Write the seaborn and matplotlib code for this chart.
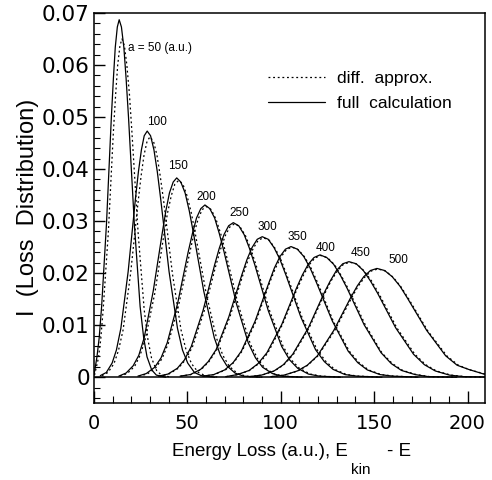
import pandas as pd
import seaborn as sns
import matplotlib.pyplot as plt
from matplotlib.lines import Line2D
from matplotlib.ticker import MultipleLocator, FuncFormatter

# === Data (energy loss in a.u., intensity) ===
a_values = [50, 100, 150, 200, 250, 300, 350, 400, 450, 500]

# full calculation
full_x_50 = [0.0, 1.6, 2.8, 4.1, 6.7, 9.3, 10.4, 11.4, 12.5, 13.5, 14.7, 16.0, 17.2, 18.5, 21.6, 24.7, 26.6, 28.4, 30.9, 33.4, 38.4]
full_y_50 = [0.0004, 0.0039, 0.0076, 0.0136, 0.0295, 0.0499, 0.0574, 0.0634, 0.0673, 0.0687, 0.0673, 0.0634, 0.0574, 0.0499, 0.0295, 0.0136, 0.0076, 0.0039, 0.0014, 0.0004, 0.0000]
full_x_100 = [3.4, 6.6, 9.7, 12.0, 14.4, 18.3, 22.2, 23.8, 25.4, 26.9, 28.5, 30.3, 32.1, 33.9, 35.7, 40.2, 44.7, 47.4, 50.2, 53.8, 57.4, 64.6]
full_y_100 = [0.0003, 0.0009, 0.0027, 0.0052, 0.0094, 0.0203, 0.0343, 0.0395, 0.0437, 0.0464, 0.0473, 0.0464, 0.0437, 0.0395, 0.0343, 0.0203, 0.0094, 0.0052, 0.0027, 0.0009, 0.0003, 0.0000]
full_x_150 = [13.3, 17.2, 21.0, 24.0, 26.9, 31.7, 36.6, 38.5, 40.4, 42.4, 44.3, 46.5, 48.8, 51.0, 53.2, 58.8, 64.4, 67.7, 71.1, 75.5, 80.0, 88.9]
full_y_150 = [0.0002, 0.0008, 0.0022, 0.0042, 0.0076, 0.0165, 0.0278, 0.0320, 0.0354, 0.0375, 0.0383, 0.0375, 0.0354, 0.0320, 0.0278, 0.0165, 0.0076, 0.0042, 0.0022, 0.0008, 0.0002, 0.0000]
full_x_200 = [23.5, 28.0, 32.5, 35.9, 39.2, 44.8, 50.4, 52.7, 54.9, 57.2, 59.4, 62.0, 64.6, 67.1, 69.7, 76.2, 82.6, 86.5, 90.3, 95.5, 100.7, 111.0]
full_y_200 = [0.0002, 0.0007, 0.0019, 0.0037, 0.0066, 0.0142, 0.0240, 0.0276, 0.0306, 0.0324, 0.0331, 0.0324, 0.0306, 0.0276, 0.0240, 0.0142, 0.0066, 0.0037, 0.0019, 0.0007, 0.0002, 0.0000]
full_x_250 = [34.6, 39.6, 44.6, 48.4, 52.1, 58.4, 64.6, 67.1, 69.6, 72.1, 74.6, 77.5, 80.4, 83.2, 86.1, 93.3, 100.5, 104.8, 109.1, 114.8, 120.6, 132.1]
full_y_250 = [0.0002, 0.0006, 0.0017, 0.0033, 0.0059, 0.0128, 0.0216, 0.0248, 0.0274, 0.0291, 0.0297, 0.0291, 0.0274, 0.0248, 0.0216, 0.0128, 0.0059, 0.0033, 0.0017, 0.0006, 0.0002, 0.0000]
full_x_300 = [46.1, 51.6, 57.1, 61.2, 65.4, 72.2, 79.1, 81.9, 84.6, 87.4, 90.1, 93.3, 96.4, 99.6, 102.8, 110.7, 118.6, 123.3, 128.0, 134.4, 140.7, 153.3]
full_y_300 = [0.0002, 0.0005, 0.0015, 0.0030, 0.0053, 0.0116, 0.0196, 0.0226, 0.0249, 0.0265, 0.0270, 0.0265, 0.0249, 0.0226, 0.0196, 0.0116, 0.0053, 0.0030, 0.0015, 0.0005, 0.0002, 0.0000]
full_x_350 = [58.2, 64.1, 70.0, 74.5, 78.9, 86.3, 93.7, 96.6, 99.6, 102.5, 105.5, 108.9, 112.3, 115.7, 119.1, 127.6, 136.1, 141.2, 146.3, 153.1, 159.9, 173.5]
full_y_350 = [0.0002, 0.0005, 0.0014, 0.0028, 0.0050, 0.0108, 0.0182, 0.0210, 0.0232, 0.0246, 0.0251, 0.0246, 0.0232, 0.0210, 0.0182, 0.0108, 0.0050, 0.0028, 0.0014, 0.0005, 0.0002, 0.0000]
full_x_400 = [70.5, 76.8, 83.1, 87.8, 92.6, 100.5, 108.4, 111.5, 114.7, 117.8, 121.0, 124.6, 128.3, 131.9, 135.5, 144.6, 153.7, 159.2, 164.6, 171.9, 179.1, 193.7]
full_y_400 = [0.0001, 0.0005, 0.0013, 0.0026, 0.0047, 0.0101, 0.0171, 0.0196, 0.0217, 0.0230, 0.0235, 0.0230, 0.0217, 0.0196, 0.0171, 0.0101, 0.0047, 0.0026, 0.0013, 0.0005, 0.0001, 0.0000]
full_x_450 = [83.0, 89.7, 96.4, 101.4, 106.4, 114.8, 123.1, 126.5, 129.8, 133.2, 136.5, 140.4, 144.2, 148.0, 151.9, 161.5, 171.1, 176.9, 182.7, 190.3, 198.0, 213.4]
full_y_450 = [0.0001, 0.0004, 0.0012, 0.0024, 0.0044, 0.0095, 0.0161, 0.0185, 0.0205, 0.0218, 0.0222, 0.0218, 0.0205, 0.0185, 0.0161, 0.0095, 0.0044, 0.0024, 0.0012, 0.0004, 0.0001, 0.0000]
full_x_500 = [94.7, 101.8, 108.9, 114.2, 119.6, 128.4, 137.3, 140.9, 144.4, 148.0, 151.5, 155.6, 159.7, 163.8, 167.8, 178.1, 188.3, 194.4, 200.5, 208.7, 216.9]
full_y_500 = [0.0001, 0.0004, 0.0012, 0.0023, 0.0041, 0.0090, 0.0152, 0.0175, 0.0193, 0.0205, 0.0209, 0.0205, 0.0193, 0.0175, 0.0152, 0.0090, 0.0041, 0.0023, 0.0015, 0.0006, 0.0003]

# diffusion approximation
diff_x_50 = [0.3, 2.4, 3.6, 4.9, 7.7, 10.4, 11.6, 12.7, 13.9, 15.0, 16.3, 17.6, 19.0, 20.3, 23.6, 26.9, 28.9, 30.8, 33.5, 36.1, 41.4]
diff_y_50 = [0.0004, 0.0037, 0.0072, 0.0129, 0.0279, 0.0472, 0.0543, 0.0600, 0.0637, 0.0650, 0.0637, 0.0600, 0.0543, 0.0472, 0.0279, 0.0129, 0.0072, 0.0037, 0.0013, 0.0004, 0.0000]
diff_x_100 = [4.3, 7.5, 10.7, 13.1, 15.6, 19.6, 23.6, 25.2, 26.8, 28.4, 30.0, 31.9, 33.7, 35.5, 37.4, 42.0, 46.6, 49.4, 52.2, 55.9, 59.6, 67.0]
diff_y_100 = [0.0003, 0.0009, 0.0026, 0.0051, 0.0091, 0.0199, 0.0336, 0.0386, 0.0427, 0.0453, 0.0462, 0.0453, 0.0427, 0.0386, 0.0336, 0.0199, 0.0091, 0.0051, 0.0026, 0.0009, 0.0003, 0.0000]
diff_x_150 = [13.9, 17.8, 21.8, 24.7, 27.6, 32.6, 37.5, 39.4, 41.4, 43.3, 45.3, 47.6, 49.8, 52.1, 54.3, 60.0, 65.6, 69.0, 72.4, 76.9, 81.4, 90.5]
diff_y_150 = [0.0002, 0.0007, 0.0021, 0.0042, 0.0075, 0.0162, 0.0275, 0.0316, 0.0349, 0.0371, 0.0378, 0.0371, 0.0349, 0.0316, 0.0275, 0.0162, 0.0075, 0.0042, 0.0021, 0.0007, 0.0002, 0.0000]
diff_x_200 = [24.0, 28.5, 33.1, 36.5, 39.8, 45.5, 51.2, 53.4, 55.7, 57.9, 60.2, 62.8, 65.4, 68.0, 70.6, 77.1, 83.6, 87.5, 91.4, 96.6, 101.8, 112.2]
diff_y_200 = [0.0002, 0.0006, 0.0018, 0.0036, 0.0065, 0.0141, 0.0238, 0.0274, 0.0303, 0.0322, 0.0328, 0.0322, 0.0303, 0.0274, 0.0238, 0.0141, 0.0065, 0.0036, 0.0018, 0.0006, 0.0002, 0.0000]
diff_x_250 = [35.1, 40.1, 45.1, 48.9, 52.7, 59.0, 65.2, 67.8, 70.3, 72.8, 75.3, 78.2, 81.1, 84.0, 86.9, 94.1, 101.4, 105.7, 110.0, 115.8, 121.6, 133.2]
diff_y_250 = [0.0002, 0.0006, 0.0017, 0.0033, 0.0058, 0.0127, 0.0214, 0.0246, 0.0272, 0.0289, 0.0295, 0.0289, 0.0272, 0.0246, 0.0214, 0.0127, 0.0058, 0.0033, 0.0017, 0.0006, 0.0002, 0.0000]
diff_x_300 = [46.4, 51.9, 57.5, 61.6, 65.8, 72.7, 79.6, 82.4, 85.2, 87.9, 90.7, 93.9, 97.1, 100.3, 103.4, 111.4, 119.4, 124.2, 128.9, 135.3, 141.7, 154.4]
diff_y_300 = [0.0002, 0.0005, 0.0015, 0.0030, 0.0053, 0.0115, 0.0195, 0.0224, 0.0247, 0.0263, 0.0268, 0.0263, 0.0247, 0.0224, 0.0195, 0.0115, 0.0053, 0.0030, 0.0015, 0.0005, 0.0002, 0.0000]
diff_x_350 = [58.5, 64.5, 70.4, 74.8, 79.3, 86.7, 94.1, 97.1, 100.1, 103.0, 106.0, 109.4, 112.8, 116.3, 119.7, 128.2, 136.7, 141.9, 147.0, 153.8, 160.7, 174.3]
diff_y_350 = [0.0002, 0.0005, 0.0014, 0.0028, 0.0050, 0.0107, 0.0182, 0.0209, 0.0231, 0.0245, 0.0250, 0.0245, 0.0231, 0.0209, 0.0182, 0.0107, 0.0050, 0.0028, 0.0014, 0.0005, 0.0002, 0.0000]
diff_x_400 = [70.8, 77.1, 83.4, 88.2, 93.0, 100.9, 108.8, 112.0, 115.2, 118.3, 121.5, 125.2, 128.8, 132.4, 136.1, 145.2, 154.3, 159.8, 165.3, 172.6, 179.9, 194.5]
diff_y_400 = [0.0001, 0.0005, 0.0013, 0.0026, 0.0046, 0.0101, 0.0170, 0.0195, 0.0216, 0.0229, 0.0234, 0.0229, 0.0216, 0.0195, 0.0170, 0.0101, 0.0046, 0.0026, 0.0013, 0.0005, 0.0001, 0.0000]
diff_x_450 = [83.3, 90.0, 96.7, 101.7, 106.8, 115.2, 123.6, 126.9, 130.3, 133.6, 137.0, 140.9, 144.7, 148.6, 152.5, 162.1, 171.8, 177.6, 183.3, 191.1, 198.8, 214.2]
diff_y_450 = [0.0001, 0.0004, 0.0012, 0.0024, 0.0044, 0.0095, 0.0161, 0.0185, 0.0204, 0.0217, 0.0221, 0.0217, 0.0204, 0.0185, 0.0161, 0.0095, 0.0044, 0.0024, 0.0012, 0.0004, 0.0001, 0.0000]
diff_x_500 = [94.9, 102.1, 109.2, 114.5, 119.9, 128.8, 137.7, 141.3, 144.9, 148.4, 152.0, 156.1, 160.2, 164.3, 168.4, 178.7, 188.9, 195.1, 201.3, 209.5, 217.7]
diff_y_500 = [0.0001, 0.0004, 0.0012, 0.0023, 0.0041, 0.0089, 0.0151, 0.0174, 0.0192, 0.0204, 0.0208, 0.0204, 0.0192, 0.0174, 0.0151, 0.0089, 0.0041, 0.0023, 0.0014, 0.0006, 0.0003]

# curve labels (text, x, y in data units)
label_texts = ["a = 50 (a.u.)", "100", "150", "200", "250", "300", "350", "400", "450", "500"]
label_x = [18.2, 33.5, 45.1, 60.0, 77.8, 92.8, 108.9, 124.2, 143.0, 163.0]
label_y = [0.0633, 0.0490, 0.0406, 0.0347, 0.0316, 0.0288, 0.0269, 0.0249, 0.0238, 0.0225]

x_ticks = [0, 50, 100, 150, 200]


def build_frame(prefix: str) -> pd.DataFrame:
    parts = []
    for a in a_values:
        xs = globals()[f"{prefix}_x_{a}"]
        ys = globals()[f"{prefix}_y_{a}"]
        parts.append(pd.DataFrame({"energy_loss": xs, "intensity": ys, "a": a}))
    return pd.concat(parts, ignore_index=True)


# === Plot ===
sns.set_theme(style="ticks")
plt.rcParams["font.family"] = ["Liberation Sans", "DejaVu Sans"]
plt.rcParams["text.color"] = "black"
plt.rcParams["axes.labelcolor"] = "black"
plt.rcParams["xtick.color"] = "black"
plt.rcParams["ytick.color"] = "black"

full_df = build_frame("full")
diff_df = build_frame("diff")

fig = plt.figure(figsize=(4.92, 4.8), dpi=100)
ax = fig.add_axes([0.191, 0.160, 0.795, 0.813])

dotted = (0, (1.5, 2.2))
sns.lineplot(data=diff_df, x="energy_loss", y="intensity", units="a", estimator=None,
             sort=False, color="black", lw=0.9, linestyle=dotted, legend=False, ax=ax)
sns.lineplot(data=full_df, x="energy_loss", y="intensity", units="a", estimator=None,
             sort=False, color="black", lw=0.9, legend=False, ax=ax)
ax.axhline(0, color="black", lw=1.1)

for txt, lx, ly in zip(label_texts, label_x, label_y):
    ha = "left" if txt.startswith("a") else "center"
    ax.text(lx, ly, txt, fontsize=8.5, ha=ha, va="center", color="black")

ax.set_xlim(0, 209.4)
ax.set_ylim(-0.005, 0.07)
ax.set_xticks(x_ticks)
ax.xaxis.set_minor_locator(MultipleLocator(10))
ax.yaxis.set_major_locator(MultipleLocator(0.01))
ax.yaxis.set_minor_locator(MultipleLocator(0.002))
ax.yaxis.set_major_formatter(FuncFormatter(lambda v, _: "0" if abs(v) < 1e-9 else f"{v:.2f}"))
ax.tick_params(which="both", direction="in", top=False, right=False, colors="black")
ax.tick_params(axis="x", which="major", length=9, width=1, labelsize=14, pad=8)
ax.tick_params(axis="x", which="minor", length=5, width=0.8)
ax.tick_params(axis="y", which="major", length=8, width=1, labelsize=15.5, pad=3)
ax.tick_params(axis="y", which="minor", length=4, width=0.8)
for lbl in ax.get_xticklabels() + ax.get_yticklabels():
    lbl.set_fontfamily("DejaVu Sans")
for side in ax.spines.values():
    side.set_linewidth(1.1)
    side.set_color("black")
ax.set_xlabel("")
ax.set_ylabel("")

handles = [
    Line2D([], [], color="black", lw=0.9, linestyle=dotted),
    Line2D([], [], color="black", lw=0.9),
]
ax.legend(handles, ["diff.  approx.", "full  calculation"], loc="upper left",
          bbox_to_anchor=(0.445, 0.852), frameon=False, fontsize=12.5,
          handlelength=3.3, handletextpad=0.7, labelspacing=0.6,
          borderpad=0, borderaxespad=0)

fig.text(0.056, 0.569, "I  (Loss  Distribution)", rotation=90, ha="center",
         va="center", fontsize=17)
fig.text(0.7073, 0.050, "Energy Loss (a.u.), E", ha="right", va="baseline", fontsize=13.5)
fig.text(0.7866, 0.050, "- E", ha="left", va="baseline", fontsize=13.5)
fig.text(0.734, 0.0125, "kin", ha="center", va="baseline", fontsize=11)

fig.savefig("out.png", dpi=100)
plt.close(fig)
print("[OK] Figure saved -> out.png")
